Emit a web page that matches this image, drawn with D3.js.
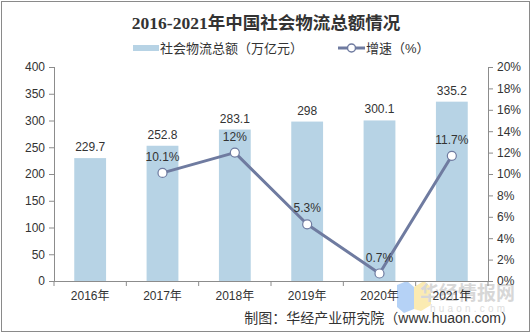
<!DOCTYPE html>
<html>
<head>
<meta charset="utf-8">
<script src="https://cdn.jsdelivr.net/npm/d3@7"></script>
<style>
  html, body { margin: 0; padding: 0; background: #fff; }
  svg { display: block; }
</style>
</head>
<body>
<svg id="chart" width="532" height="334"></svg>
<script>
// Data
const years = ["2016年", "2017年", "2018年", "2019年", "2020年", "2021年"];
const totals = [229.7, 252.8, 283.1, 298, 300.1, 335.2];          // 万亿元
const growth = [null, 10.1, 12, 5.3, 0.7, 11.7];                   // %
const leftTicks = [0, 50, 100, 150, 200, 250, 300, 350, 400];
const rightTicks = [0, 2, 4, 6, 8, 10, 12, 14, 16, 18, 20];

const title = "2016-2021年中国社会物流总额情况";
const legendBar = "社会物流总额（万亿元）";
const legendLine = "增速（%）";
const source = "制图：华经产业研究院（www.huaon.com）";

const svg = d3.select("#chart");
const W = 532, H = 334;
const plot = { left: 54, right: 488, top: 67, bottom: 281 };

const barColor = "#b7d3e5";
const lineColor = "#6f7ba0";
const axisColor = "#8c8c8c";
const textColor = "#333";
const sans = "'Liberation Sans', Arial, 'Noto Sans CJK SC', sans-serif";

// Outer frame
svg.append("rect")
  .attr("x", 1.5).attr("y", 1.5)
  .attr("width", W - 4).attr("height", H - 4)
  .attr("fill", "#fff").attr("stroke", "#8a8a8a").attr("stroke-width", 1);

// Scales
const x = d3.scaleBand().domain(years).range([plot.left, plot.right]).paddingInner(0.56).paddingOuter(0.28);
const xStep = d3.scaleBand().domain(years).range([plot.left, plot.right]);
const yL = d3.scaleLinear().domain([0, 400]).range([plot.bottom, plot.top]);
const yR = d3.scaleLinear().domain([0, 20]).range([plot.bottom, plot.top]);

// Title
svg.append("text")
  .attr("x", W / 2).attr("y", 29)
  .attr("text-anchor", "middle")
  .attr("font-family", "'Liberation Serif', 'Noto Sans CJK SC', serif")
  .attr("font-weight", "bold")
  .attr("font-size", 17.5)
  .attr("fill", textColor)
  .text(title);

// Legend
const lg = svg.append("g").attr("font-family", sans).attr("font-size", 13).attr("fill", textColor);
lg.append("rect").attr("x", 133).attr("y", 45).attr("width", 26).attr("height", 6).attr("fill", barColor);
lg.append("text").attr("x", 160).attr("y", 53).attr("fill", textColor).text(legendBar);
lg.append("line").attr("x1", 338).attr("x2", 365).attr("y1", 48).attr("y2", 48)
  .attr("stroke", lineColor).attr("stroke-width", 3);
lg.append("circle").attr("cx", 351.5).attr("cy", 48).attr("r", 4)
  .attr("fill", "#fff").attr("stroke", lineColor).attr("stroke-width", 1.5);
lg.append("text").attr("x", 366).attr("y", 53).attr("fill", textColor).text(legendLine);

// Watermark logo
const wm = svg.append("g").attr("opacity", 0.55);
wm.append("path")
  .attr("d", "M397,285 L407,281 L414,287 L414,309 L404,313 L397,307 Z")
  .attr("fill", "#7aaef0");
wm.append("path")
  .attr("d", "M414,287 L424,281 L431,287 L431,305 L421,311 L414,309 Z")
  .attr("fill", "#f8dc74");
wm.append("text").attr("x", 420).attr("y", 300)
  .attr("font-family", "'Noto Sans CJK SC', sans-serif").attr("font-weight", "bold")
  .attr("font-size", 19).attr("fill", "#b8b8b8").text("华经情报网");
wm.append("text").attr("x", 430).attr("y", 312)
  .attr("font-family", sans).attr("font-size", 10).attr("letter-spacing", 3.2)
  .attr("fill", "#c4c4c4").text("huaon.com");

// Bars
svg.append("g").selectAll("rect")
  .data(totals)
  .join("rect")
  .attr("x", (d, i) => x(years[i]))
  .attr("y", d => yL(d))
  .attr("width", x.bandwidth())
  .attr("height", d => yL(0) - yL(d))
  .attr("fill", barColor);

// Left axis
const axL = svg.append("g")
  .attr("transform", `translate(${plot.left},0)`)
  .call(d3.axisLeft(yL).tickValues(leftTicks).tickSize(5).tickPadding(4));
// Right axis
const axR = svg.append("g")
  .attr("transform", `translate(${plot.right},0)`)
  .call(d3.axisRight(yR).tickValues(rightTicks).tickSize(5).tickPadding(4).tickFormat(d => d + "%"));
// Bottom axis: category labels centred under bars, ticks on band boundaries
const axB = svg.append("g")
  .attr("transform", `translate(0,${plot.bottom})`)
  .call(d3.axisBottom(xStep).tickSize(0).tickPadding(10));
axB.selectAll(".tick line").remove();
axB.append("g").selectAll("line")
  .data(d3.range(years.length + 1))
  .join("line")
  .attr("x1", i => plot.left + i * xStep.step())
  .attr("x2", i => plot.left + i * xStep.step())
  .attr("y1", 0).attr("y2", 5)
  .attr("stroke", axisColor);

[axL, axR, axB].forEach(g => {
  g.selectAll("path.domain").attr("stroke", axisColor).attr("stroke-width", 1);
  g.selectAll(".tick line").attr("stroke", axisColor);
  g.selectAll("text").attr("font-family", sans).attr("font-size", 12).attr("fill", textColor);
});
axL.select("path.domain").attr("d", `M0.5,${plot.top}V${plot.bottom}`);
axR.select("path.domain").attr("d", `M0.5,${plot.top}V${plot.bottom}`);
axB.select("path.domain").attr("d", `M${plot.left},0.5H${plot.right}`);
axR.selectAll(".tick text").attr("x", 9);

// Bar value labels
svg.append("g").selectAll("text")
  .data(totals)
  .join("text")
  .attr("x", (d, i) => x(years[i]) + x.bandwidth() / 2)
  .attr("y", d => yL(d) - 7)
  .attr("text-anchor", "middle")
  .attr("font-family", sans).attr("font-size", 12).attr("fill", textColor)
  .text(d => String(d));

// Growth line
const pts = growth.map((g, i) => ({ g, year: years[i] })).filter(p => p.g !== null);
const line = d3.line()
  .x(p => xStep(p.year) + xStep.bandwidth() / 2)
  .y(p => yR(p.g));
svg.append("path")
  .datum(pts)
  .attr("d", line)
  .attr("fill", "none")
  .attr("stroke", lineColor)
  .attr("stroke-width", 3)
  .attr("stroke-linejoin", "round");
svg.append("g").selectAll("circle")
  .data(pts)
  .join("circle")
  .attr("cx", p => xStep(p.year) + xStep.bandwidth() / 2)
  .attr("cy", p => yR(p.g))
  .attr("r", 4.5)
  .attr("fill", "#fff")
  .attr("stroke", lineColor)
  .attr("stroke-width", 1.2);
svg.append("g").selectAll("text")
  .data(pts)
  .join("text")
  .attr("x", p => xStep(p.year) + xStep.bandwidth() / 2)
  .attr("y", p => yR(p.g) - 12)
  .attr("text-anchor", "middle")
  .attr("font-family", sans).attr("font-size", 12).attr("fill", textColor)
  .text(p => p.g + "%");

// Source note
svg.append("text")
  .attr("x", 515).attr("y", 323)
  .attr("text-anchor", "end")
  .attr("font-family", sans).attr("font-size", 14).attr("fill", textColor)
  .text(source);
</script>
</body>
</html>
